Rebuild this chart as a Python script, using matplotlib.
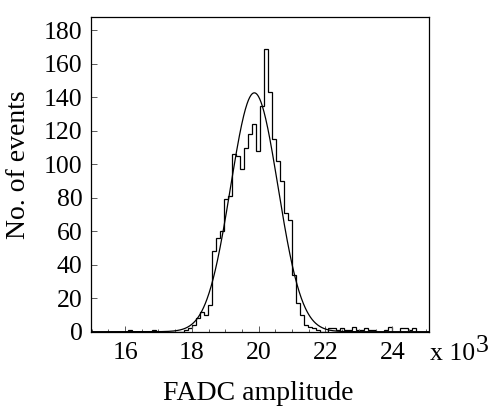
"""
FADC amplitude spectrum with a gaussian fit, drawn ROOT style.
"""

import matplotlib
matplotlib.use("Agg")
import matplotlib.pyplot as plt
import numpy as np
from matplotlib.ticker import MultipleLocator

# Histogram: 84 bins of 0.12 (x 10^3) starting at 15.0
hist_start = 15.0
bin_width = 0.12
counts = [
    0, 0, 0, 0, 0, 0, 0, 0, 0, 1,
    0, 0, 0, 0, 0, 1, 0, 0, 0, 0,
    0, 0, 0, 1, 2, 4, 8, 12, 10, 16,
    48, 56, 60, 79, 81, 106, 105, 97, 110, 118,
    124, 108, 135, 169, 143, 115, 102, 90, 71, 67,
    34, 17, 10, 4, 3, 2, 1, 0, 0, 2,
    2, 1, 2, 1, 1, 3, 1, 1, 2, 1,
    1, 0, 0, 1, 3, 0, 0, 2, 2, 1,
    2, 0, 0, 0,
]

# Gaussian fit parameters
fit_const = 142.7
fit_mean = 19.87
fit_sigma = 0.71

x_limits = (14.98, 25.10)
y_limits = (0, 188)

tick_size = 18.5
title_size = 20

plt.rcParams["font.family"] = ["Liberation Serif", "DejaVu Serif"]


def gaus(x, const, mean, sigma):
    """
    ROOT 'gaus' function.
    """
    return const * np.exp(-0.5 * ((x - mean) / sigma) ** 2)


def setup_axes():
    """
    Creates the figure and axis object.
    """
    fig = plt.figure(figsize=(4.91, 4.07), dpi=100)
    ax = fig.add_axes([91 / 491, 1 - 331.7 / 407, 338 / 491, 314.7 / 407])

    for spine in ax.spines.values():
        spine.set_linewidth(0.9)

    ax.set_xlim(*x_limits)
    ax.set_ylim(*y_limits)
    ax.xaxis.set_major_locator(MultipleLocator(2))
    ax.xaxis.set_minor_locator(MultipleLocator(0.5))
    ax.yaxis.set_major_locator(MultipleLocator(20))

    ax.tick_params(which="both", direction="in", top=False, right=False,
                   width=0.7, color="0.35")
    ax.tick_params(axis="x", which="major", length=4.5, pad=7.6, labelsize=tick_size)
    ax.tick_params(axis="x", which="minor", length=2.2)
    ax.tick_params(axis="y", which="major", length=4.5, pad=6.0, labelsize=tick_size)

    return fig, ax


fig, ax = setup_axes()

edges = hist_start + bin_width * np.arange(len(counts) + 1)
ax.stairs(counts, edges, color="black", linewidth=0.9)

x_fit = np.linspace(x_limits[0], x_limits[1], 800)
ax.plot(x_fit, gaus(x_fit, fit_const, fit_mean, fit_sigma), color="black", linewidth=0.9)

# axis titles
fig.text(258 / 491, 1 - 400 / 407, "FADC amplitude", ha="center", va="baseline",
         fontsize=title_size)
fig.text(0.012, 1 - 165 / 407, "No. of events", rotation=90, ha="left", va="center",
         fontsize=title_size)

# exponent of the x axis
mult = fig.text(430 / 491, 1 - 360 / 407, "x 10", ha="left", va="baseline", fontsize=tick_size)
ax.annotate("3", xy=(1, 0), xycoords=mult, xytext=(0.5, 5.6), textcoords="offset points",
            ha="left", va="bottom", fontsize=tick_size, annotation_clip=False)

fig.savefig("out.png", dpi=100)
